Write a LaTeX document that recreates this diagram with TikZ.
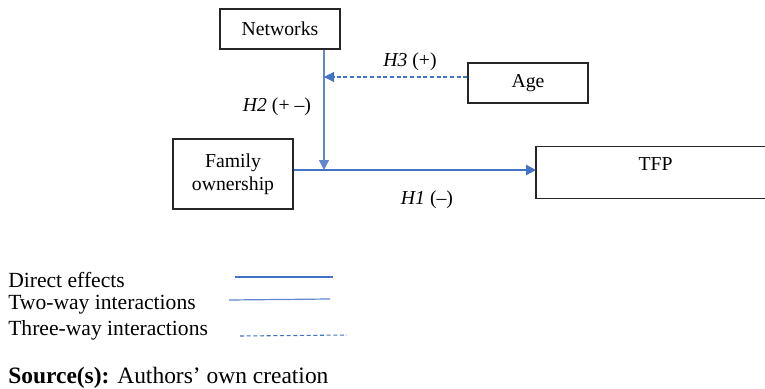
\documentclass[tikz,border=0pt]{standalone}
\usepackage{fontspec}
\setmainfont{Liberation Serif}
\usetikzlibrary{arrows.meta}
\definecolor{linkblue}{RGB}{68,114,196}
\begin{document}
\begin{tikzpicture}
[x = .75pt, y = -.75pt, font = \fontsize{14.8}{17}\selectfont,
box/.style ={draw=black!85, line width=.9pt, inner sep=0pt},
direct/.style ={linkblue, line width=2.2pt},
twoway/.style ={linkblue!85, line width=.9pt},
threeway/.style ={linkblue, line width=.8pt, dash pattern=on 3pt off 2pt},
arrowhd/.style ={-{Triangle[length=7.5pt,width=7.5pt]}},
legend/.style ={anchor=west, inner sep=0pt, font=\fontsize{16.2}{18}\selectfont}]
\useasboundingbox (0,0) rectangle (765,389);
\node[box, minimum width=90pt, minimum height=30pt] (net) at (280,29) {Networks};
\node[box, minimum width=90pt, minimum height=30pt] (age) at (528,83) {Age};
\node[box, minimum width=90pt, minimum height=52.5pt, align=center] (fo) at (233,174) {Family\\ownership};
\node[box, draw=none, minimum width=173pt, minimum height=38pt, anchor=west, text height=10pt, text depth=13pt]
  (tfp) at (536,172.5) {\makebox[178.5pt]{TFP}};
% TFP box runs off the right edge
\draw[black!85, line width=.9pt] (tfp.north east) -- (tfp.north west) -- (tfp.south west) -- (tfp.south east);
\coordinate (join) at (324,170);
\coordinate (mid) at (324,77);
\draw[direct, arrowhd] (fo.east |- join) -- (tfp.west |- join);
\draw[twoway, arrowhd] (net.south -| join) -- (join);
\draw[threeway, arrowhd] (age.west |- mid) -- (mid);
\node (h3) at (410,62) {\textit{H3} (+)};
\node (h2) at (277,107) {\textit{H2} (+ –)};
\node (h1) at (427,200) {\textit{H1} (–)};
% legend
\node[legend] (ld) at (8,280) {Direct effects};
\node[legend] (lt) at (8,305) {Two-way interactions};
\node[legend] (lh) at (8,330) {Three-way interactions};
\draw[direct] (235,277) -- (333,277);
\draw[twoway] (229,300) -- (330,299);
\draw[threeway] (240,336) -- (347,335);
\node[legend, font=\fontsize{17.6}{20}\selectfont] (src) at (8,378) {\textbf{Source(s):} Authors’ own creation};
\end{tikzpicture}
\end{document}
